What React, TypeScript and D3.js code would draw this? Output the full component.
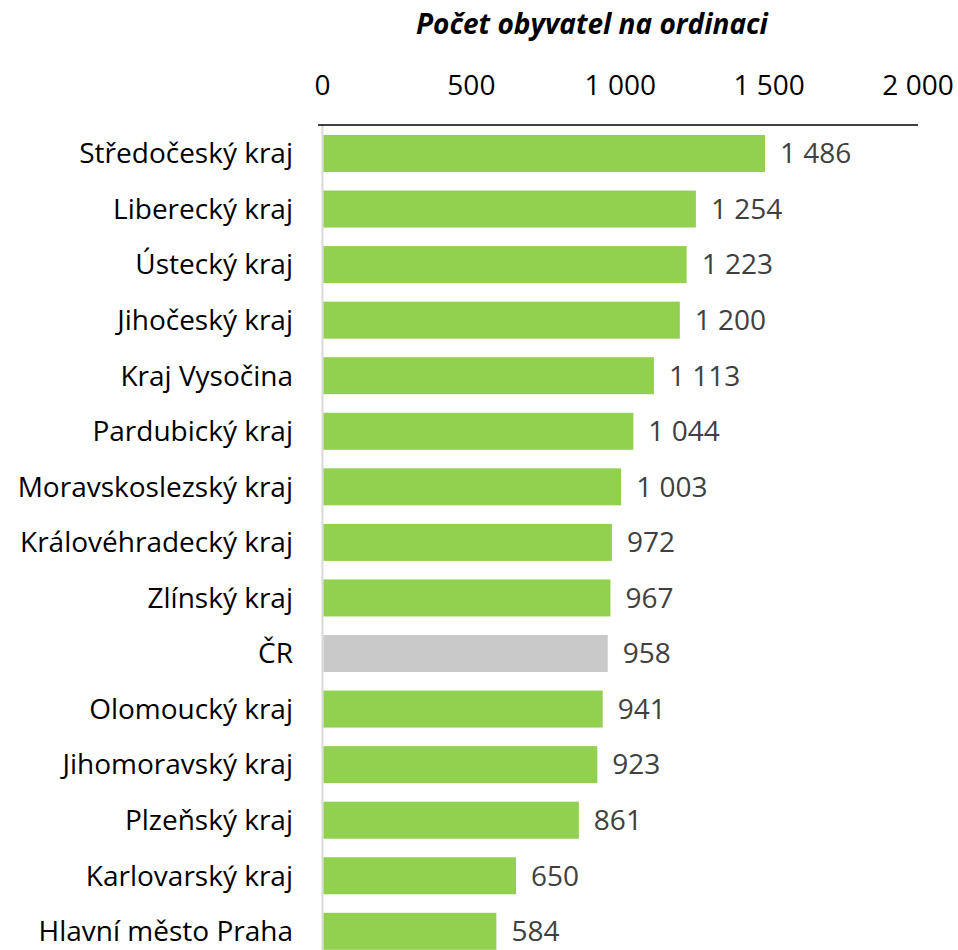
import React from "react";
import * as d3 from "d3";

const categories = [
  "Středočeský kraj",
  "Liberecký kraj",
  "Ústecký kraj",
  "Jihočeský kraj",
  "Kraj Vysočina",
  "Pardubický kraj",
  "Moravskoslezský kraj",
  "Královéhradecký kraj",
  "Zlínský kraj",
  "ČR",
  "Olomoucký kraj",
  "Jihomoravský kraj",
  "Plzeňský kraj",
  "Karlovarský kraj",
  "Hlavní město Praha",
];
const values = [1486, 1254, 1223, 1200, 1113, 1044, 1003, 972, 967, 958, 941, 923, 861, 650, 584];
const tickValues = [0, 500, 1000, 1500, 2000];
const title = "Počet obyvatel na ordinaci";

const W = 958;
const H = 950;
const FONT = "'Open Sans', 'Noto Sans', sans-serif";

const locale = d3.formatLocale({ decimal: ",", thousands: " ", grouping: [3], currency: ["", " Kč"] });
const fmt = locale.format(",d");

export default function App() {
  const x = d3.scaleLinear().domain([0, 2000]).range([322.5, 918]);
  const y = d3
    .scaleBand<string>()
    .domain(categories)
    .range([125.7, 959.1])
    .paddingInner(0.334)
    .paddingOuter(0.167);
  const bw = y.bandwidth();
  return (
    <svg width={W} height={H} style={{ position: "absolute", left: 0, top: 0, background: "#fff" }} fontFamily={FONT}>
      <text x={592} y={34} textAnchor="middle" fontSize={28} fontWeight="bold" fontStyle="italic" fill="#000">
        {title}
      </text>
      {tickValues.map((t) => (
        <text key={t} x={x(t)} y={95} textAnchor="middle" fontSize={28} fill="#000">
          {fmt(t)}
        </text>
      ))}
      <line x1={x(0)} x2={x(0)} y1={125} y2={H} stroke="#d9d9d9" strokeWidth={2} />
      {categories.map((c, i) => {
        const yy = y(c)!;
        const isCR = c === "ČR";
        return (
          <g key={c}>
            <rect x={x(0) + 1} y={yy} width={x(values[i]) - x(0) - 1} height={bw} fill={isCR ? "#c9c9c9" : "#92d050"} />
            <text x={x(values[i]) + 15} y={yy + bw / 2} dy="0.35em" fontSize={28} fill="#404040">
              {fmt(values[i])}
            </text>
            <text x={293} y={yy + bw / 2} dy="0.35em" textAnchor="end" fontSize={28} fill="#000">
              {c}
            </text>
          </g>
        );
      })}
      <line x1={318} x2={918} y1={125} y2={125} stroke="#000" strokeWidth={1.5} />
    </svg>
  );
}
